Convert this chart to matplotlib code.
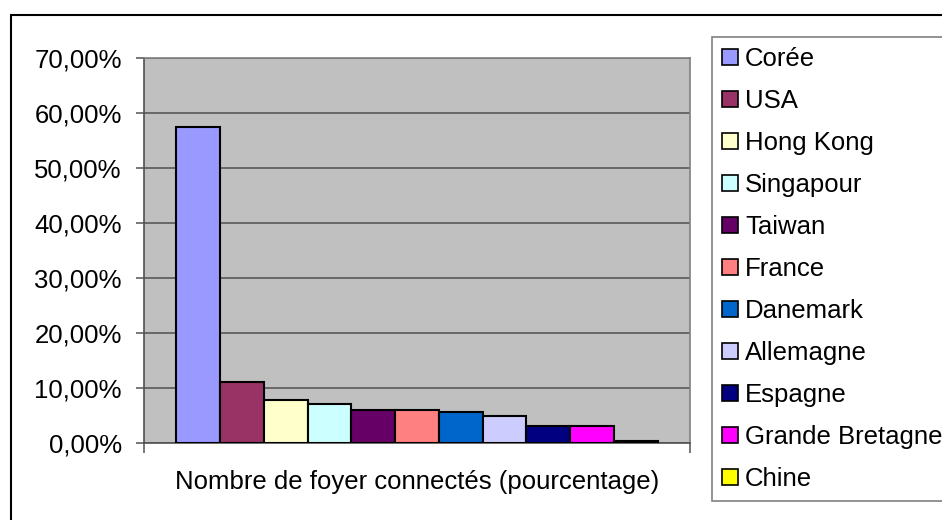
import matplotlib
matplotlib.use("Agg")
import matplotlib.pyplot as plt
from matplotlib.patches import Rectangle, Patch
from matplotlib.ticker import FuncFormatter

pays = ["Corée", "USA", "Hong Kong", "Singapour", "Taiwan", "France",
        "Danemark", "Allemagne", "Espagne", "Grande Bretagne", "Chine"]
valeurs = [57.4, 11.1, 7.8, 7.1, 6.0, 6.0, 5.7, 4.9, 3.1, 3.1, 0.3]
couleurs = ["#9999FF", "#993366", "#FFFFCC", "#CCFFFF", "#660066", "#FF8080",
            "#0066CC", "#CCCCFF", "#000080", "#FF00FF", "#FFFF00"]
categorie = "Nombre de foyer connectés (pourcentage)"

plt.rcParams['font.family'] = ['Liberation Sans', 'DejaVu Sans']
plt.rcParams['font.size'] = 18.5

W, H = 942, 520
fig = plt.figure(figsize=(W / 100, H / 100), dpi=100)
ax = fig.add_axes([144 / W, 1 - 443 / H, (690 - 144) / W, (443 - 58) / H])

ax.set_facecolor("#C0C0C0")
for i, (v, c) in enumerate(zip(valeurs, couleurs)):
    ax.bar(i, v / 100, width=1, align='edge', color=c, edgecolor='black',
           linewidth=1.5, zorder=3)

gap = 0.74
ax.set_xlim(-gap, len(valeurs) + gap)
ax.set_ylim(0, 0.70)
ax.set_yticks([i / 100 for i in range(0, 71, 10)])
ax.yaxis.set_major_formatter(FuncFormatter(lambda y, p: f"{y * 100:.2f}%".replace('.', ',')))
ax.set_xticks([-gap, len(valeurs) + gap])
ax.set_xticklabels([])
ax.tick_params(axis='y', length=6, width=1.2, color='#606060', pad=10)
ax.tick_params(axis='x', length=7, width=1.2, color='#606060')
ax.grid(axis='y', color='#606060', linewidth=1.3, zorder=0)
ax.set_axisbelow(True)
for s in ax.spines.values():
    s.set_color('#808080')
    s.set_linewidth(1.2)
ax.spines['left'].set_color('#505050')
ax.spines['bottom'].set_color('#505050')
ax.set_xlabel(categorie, labelpad=9)

handles = [Patch(facecolor=c, edgecolor='black', linewidth=1.2) for c in couleurs]
leg = fig.legend(handles, pays, loc='upper left', bbox_to_anchor=(712 / W, 1 - 37 / H),
                 frameon=True, fancybox=False, borderaxespad=0, borderpad=0.4,
                 handlelength=0.6, handleheight=0.6, handletextpad=0.28,
                 labelspacing=0.7)
leg.get_frame().set_edgecolor('#606060')
leg.get_frame().set_linewidth(1.2)

fig.patches.append(Rectangle((11 / W, -0.1), 1.2, 1 - 15 / H + 0.1,
                             transform=fig.transFigure, fill=False,
                             edgecolor='black', linewidth=1.5))

fig.savefig("out.png", dpi=100)
